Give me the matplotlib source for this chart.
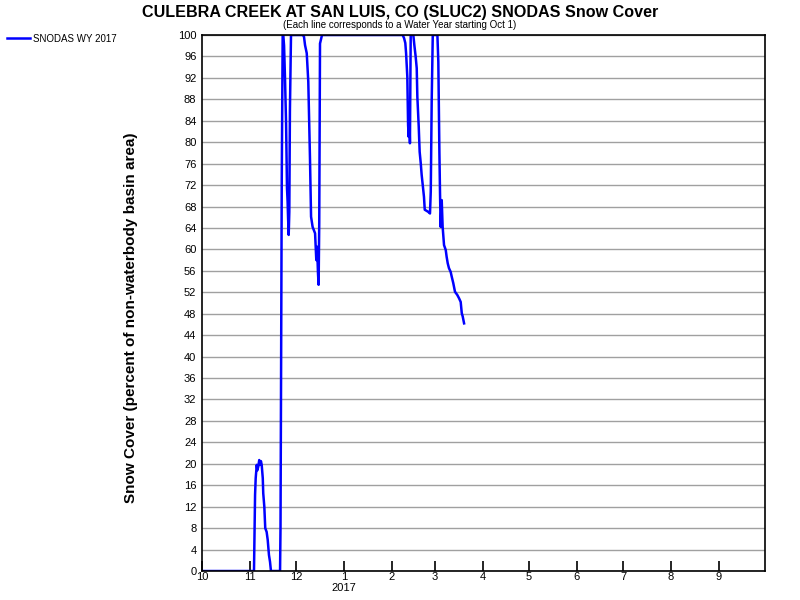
import numpy as np
import pandas as pd
import matplotlib
matplotlib.use("Agg")
import matplotlib.pyplot as plt

plt.rcParams["font.family"] = ["Liberation Sans", "DejaVu Sans"]

# water year 2017 starts Oct 1 2016; x values are days since that date
wy_start = pd.Timestamp("2016-10-01")
wy_end = pd.Timestamp("2017-10-01")

days = [0, 33.7, 34.4, 34.8, 35.5, 35.9, 36.5, 37.1, 37.6, 38.2, 38.7, 39.4,
        39.7, 40.4, 41.0, 41.9, 42.6, 43.4, 44.1, 44.7, 50.6,
        50.9, 51.3, 51.7, 52.3, 52.7, 53.2, 53.8, 54.5, 55.1, 55.5, 55.8,
        56.2, 56.6, 57.0, 57.7,
        65.3, 66.1, 66.8, 67.9, 68.9, 70.0, 70.7, 71.7, 73.3, 74.1, 74.6,
        75.2, 75.6, 76.0, 76.5, 77.8,
        130.1, 131.0, 131.8, 132.3, 133.1, 133.6, 134.0, 134.4, 134.8, 135.3,
        137.0, 137.7, 138.5, 139.2, 139.6, 140.5, 141.1, 141.8, 142.4, 143.1,
        143.9, 144.4, 146.7, 147.8, 148.3, 148.9, 149.6,
        152.6, 153.2, 153.9, 154.3, 154.7, 155.4, 156.0, 156.9, 158.0, 158.6,
        159.3, 160.1, 161.2, 161.9, 162.9, 164.0, 165.5, 166.6, 167.7, 168.4,
        169.0, 169.9]
cover = [0, 0, 14.2, 17.3, 19.8, 18.8, 19.5, 20.7, 19.8, 20.5, 19.8, 17.3,
         14.5, 12.0, 8.0, 7.3, 5.8, 3.0, 1.7, 0, 0,
         8.2, 40, 72.9, 100, 100, 98, 92, 83.6, 71.4, 68.9, 65.9,
         62.7, 67, 86, 100,
         100, 99.7, 98.1, 96.6, 91.3, 77, 66.1, 64.2, 63, 58, 60.5,
         55.5, 53.4, 64.9, 98.4, 100,
         100, 99.4, 98.5, 96.6, 92.2, 83.2, 81, 84.8, 79.8, 100,
         100, 98, 96, 93.8, 88.5, 82.9, 78.2, 76.1, 73.9, 72,
         69.8, 67.4, 67, 66.7, 70.8, 87.6, 100,
         100, 95, 78, 70.5, 64.2, 69.2, 64.2, 60.8, 59.9, 58.6,
         57.4, 56.5, 55.8, 54.9, 53.7, 52.1, 51.5, 50.9, 50.2, 48.1,
         47.5, 46.2]

month_labels = ["10", "11", "12", "1", "2", "3", "4", "5", "6", "7", "8", "9"]
y_ticks = list(range(0, 101, 4))

fig = plt.figure(figsize=(8, 6), dpi=100)
ax = fig.add_axes([0.2525, 0.0483, 0.9563 - 0.2525, 0.9417 - 0.0483])

line, = ax.plot(days, cover, color="#0000ff", linewidth=1.8)

total_days = (wy_end - wy_start).days
ax.set_xlim(0, total_days)
ax.set_ylim(0, 100)

month_starts = pd.date_range(wy_start, periods=12, freq="MS")
tick_pos = [(m - wy_start).days for m in month_starts]
ax.set_xticks(tick_pos)
ax.set_xticklabels(month_labels, fontsize=8)
ax.tick_params(axis="x", direction="in", length=7, width=1.2, pad=1)
ax.text(tick_pos[3], -0.032, "2017", transform=ax.get_xaxis_transform(),
        ha="center", va="center", fontsize=8)

ax.set_yticks(y_ticks)
ax.set_yticklabels([str(v) for v in y_ticks], fontsize=8)
ax.tick_params(axis="y", length=0, pad=4)
ax.yaxis.grid(True, color="#a0a0a0", linewidth=1)
ax.set_axisbelow(True)

for s in ax.spines.values():
    s.set_linewidth(1.2)
    s.set_color("black")

ax.set_ylabel("Snow Cover (percent of non-waterbody basin area)",
              fontsize=11, fontweight="bold")
ax.yaxis.set_label_coords(-0.114, 0.472)

fig.text(0.5, 0.98, "CULEBRA CREEK AT SAN LUIS, CO (SLUC2) SNODAS Snow Cover",
         ha="center", va="center", fontsize=11.6, fontweight="bold")
fig.text(0.5, 0.958, "(Each line corresponds to a Water Year starting Oct 1)",
         ha="center", va="center", fontsize=7)

fig.legend([line], ["SNODAS WY 2017"], loc="upper left",
           bbox_to_anchor=(0.0, 0.955), frameon=False, fontsize=7,
           handlelength=2.4, handletextpad=0.3, borderaxespad=0.3)

fig.savefig("out.png", dpi=100)
